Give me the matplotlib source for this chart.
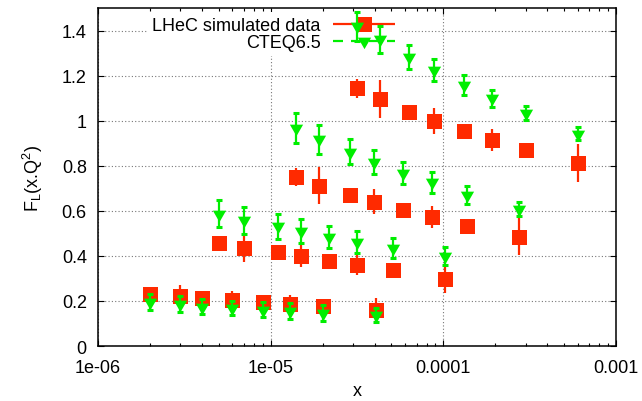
import numpy as np
import matplotlib.pyplot as plt
from matplotlib.path import Path
from matplotlib.container import ErrorbarContainer
from matplotlib.legend_handler import HandlerErrorbar
from matplotlib.ticker import LogLocator, FuncFormatter, NullFormatter, MultipleLocator

plt.rcParams['font.family'] = ['Liberation Sans', 'DejaVu Sans']
plt.rcParams['font.size'] = 13

# x points, four Q2 bins
x_bin1 = [2e-6, 3e-6, 4e-6, 6e-6, 9e-6, 1.3e-5, 2e-5, 4.1e-5]
x_bin2 = [5e-6, 7e-6, 1.1e-5, 1.5e-5, 2.18e-5, 3.17e-5, 5.1e-5, 1.02e-4]
x_bin3 = [1.4e-5, 1.9e-5, 2.88e-5, 3.98e-5, 5.86e-5, 8.56e-5, 1.37e-4, 2.75e-4]
x_bin4 = [3.18e-5, 4.3e-5, 6.35e-5, 8.86e-5, 1.31e-4, 1.91e-4, 3.03e-4, 6.04e-4]

# LHeC simulated F_L and errors
lhec_bin1 = [0.231, 0.222, 0.213, 0.205, 0.197, 0.188, 0.177, 0.160]
lhec_err1 = [0.02, 0.048, 0.02, 0.038, 0.02, 0.038, 0.02, 0.055]
lhec_bin2 = [0.455, 0.434, 0.415, 0.400, 0.379, 0.360, 0.339, 0.297]
lhec_err2 = [0.02, 0.063, 0.02, 0.048, 0.02, 0.043, 0.02, 0.060]
lhec_bin3 = [0.749, 0.712, 0.670, 0.640, 0.603, 0.572, 0.531, 0.484]
lhec_err3 = [0.04, 0.082, 0.02, 0.056, 0.02, 0.050, 0.02, 0.082]
lhec_bin4 = [1.143, 1.095, 1.037, 0.998, 0.954, 0.915, 0.868, 0.812]
lhec_err4 = [0.043, 0.084, 0.02, 0.057, 0.02, 0.050, 0.02, 0.086]

# CTEQ6.5 prediction and uncertainty
cteq_bin1 = [0.196, 0.187, 0.175, 0.168, 0.162, 0.155, 0.147, 0.138]
cteq_err1 = [0.035, 0.034, 0.034, 0.032, 0.034, 0.034, 0.034, 0.031]
cteq_bin2 = [0.587, 0.557, 0.531, 0.510, 0.484, 0.461, 0.435, 0.398]
cteq_err2 = [0.060, 0.062, 0.056, 0.055, 0.049, 0.049, 0.045, 0.040]
cteq_bin3 = [0.966, 0.917, 0.862, 0.818, 0.768, 0.726, 0.670, 0.609]
cteq_err3 = [0.067, 0.064, 0.056, 0.053, 0.048, 0.045, 0.038, 0.032]
cteq_bin4 = [1.418, 1.362, 1.283, 1.223, 1.158, 1.099, 1.035, 0.943]
cteq_err4 = [0.064, 0.060, 0.052, 0.049, 0.043, 0.039, 0.031, 0.028]

x = np.concatenate([x_bin1, x_bin2, x_bin3, x_bin4])
lhec = np.concatenate([lhec_bin1, lhec_bin2, lhec_bin3, lhec_bin4])
lhec_err = np.concatenate([lhec_err1, lhec_err2, lhec_err3, lhec_err4])
cteq = np.concatenate([cteq_bin1, cteq_bin2, cteq_bin3, cteq_bin4])
cteq_err = np.concatenate([cteq_err1, cteq_err2, cteq_err3, cteq_err4])

red = '#ff2a00'
green = '#00ee00'

# gnuplot style down triangle (centred on centroid)
tri = Path([(0, -1.33), (-1.15, 0.67), (1.15, 0.67), (0, -1.33)],
           [Path.MOVETO, Path.LINETO, Path.LINETO, Path.CLOSEPOLY])

fig = plt.figure(figsize=(6.42, 4.02), dpi=100)
ax = fig.add_axes([0.1526, 0.1368, 0.8069, 0.8408])

ax.errorbar(x, lhec, yerr=lhec_err, fmt='s', color=red, ms=10.8, mew=0,
            elinewidth=1.6, capsize=2.5, capthick=2.2, zorder=3)
ax.errorbar(x, cteq, yerr=cteq_err, fmt='none', ecolor=green,
            elinewidth=1.6, capsize=2.5, capthick=2.2, zorder=4)
ax.plot(x, cteq, ls='none', marker=tri, color=green, ms=11, mew=0, zorder=4)

ax.set_xscale('log')
ax.set_xlim(1e-6, 1e-3)
ax.set_ylim(0, 1.5)
ax.yaxis.set_major_locator(MultipleLocator(0.2))
ax.yaxis.set_major_formatter(FuncFormatter(lambda v, p: '%g' % round(v, 2) if v < 1.45 else ''))
ax.xaxis.set_major_locator(LogLocator(base=10, numticks=10))
ax.xaxis.set_minor_locator(LogLocator(base=10, subs=np.arange(2, 10), numticks=50))
ax.xaxis.set_major_formatter(FuncFormatter(lambda v, p: '%g' % v))
ax.xaxis.set_minor_formatter(NullFormatter())

ax.tick_params(which='both', direction='in', top=True, right=True, width=0.8)
ax.tick_params(which='major', length=4, pad=8)
ax.tick_params(axis='x', which='major', pad=9)
ax.tick_params(which='minor', length=2.3)
for s in ax.spines.values():
    s.set_linewidth(1.1)

ax.grid(True, which='major', linestyle=(0, (1, 2)), color='#777777', lw=0.8)
ax.set_axisbelow(True)

ax.set_xlabel('x', labelpad=5)
ax.set_ylabel(r'F$_\mathregular{L}$(x.Q$^\mathregular{2}$)', labelpad=12)

# legend samples, gnuplot-like horizontal error bar
h_lhec = ax.errorbar([], [], xerr=[], fmt='s', color=red, ms=10.8, mew=0,
                     elinewidth=1.6, capsize=3, capthick=2.2)
h_cteq = ax.errorbar([], [], xerr=[], fmt='v', color=green, ms=11, mew=0,
                     elinewidth=1.6, capsize=3, capthick=2.2)
h_cteq[0].set_marker(tri)
h_cteq[2][0].set_linestyle((0, (4.5, 3.6)))
leg = ax.legend([h_lhec, h_cteq], ['LHeC simulated data', 'CTEQ6.5'],
                loc='upper right', bbox_to_anchor=(0.59, 1.0),
                markerfirst=False, frameon=True, fancybox=False,
                handlelength=3.4, handletextpad=0.7, labelspacing=0.0,
                borderpad=0.3, borderaxespad=0.2, numpoints=1,
                handler_map={ErrorbarContainer: HandlerErrorbar(xerr_size=1.7)})
leg.get_frame().set_edgecolor('none')
leg.get_frame().set_facecolor('white')
leg.get_frame().set_alpha(1)
leg.set_zorder(2)

fig.savefig('out.png', dpi=100)
